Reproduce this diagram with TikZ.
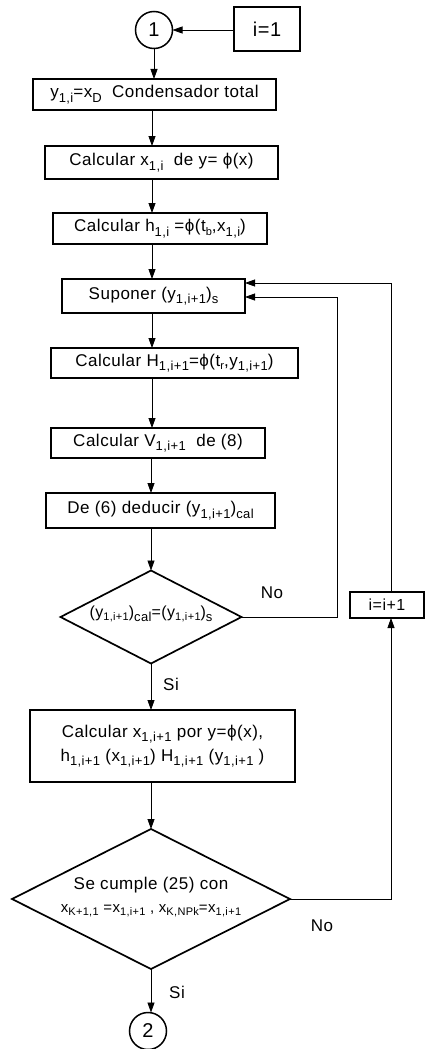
\documentclass[tikz,border=0pt]{standalone}
\usepackage{fontspec}
\setmainfont{Liberation Sans}[LetterSpace=3]
\usetikzlibrary{shapes.geometric,arrows.meta}
\newcommand\lo[1]{\raisebox{-4.5pt}{\fontsize{13}{13}\selectfont #1}}
\newcommand\los[1]{\raisebox{-3.5pt}{\fontsize{11}{11}\selectfont #1}}
\newcommand\ph{ϕ}
\begin{document}
\begin{tikzpicture}[x=1pt,y=-1pt,
  every node/.style={inner sep=0pt,outer sep=0pt,font=\fontsize{17}{21}\selectfont},
  box/.style={draw,line width=1.7pt,rectangle,align=center},
  conn/.style={draw,line width=0.8pt,-{Triangle[length=10pt,width=7pt]}},
  plain/.style={draw,line width=0.8pt},
  circ/.style={draw,circle,line width=1.5pt,minimum size=37pt,font=\fontsize{20}{22}\selectfont},
  dia/.style={draw,diamond,line width=1.7pt},
  lbl/.style={font=\fontsize{17}{21}\selectfont}]
\useasboundingbox (0,0) rectangle (425,1049);
\coordinate (ax) at (152,0);
\node[circ] (c1) at (154,30) {1};
\node[box,minimum width=66pt,minimum height=44pt,font=\fontsize{20}{22}\selectfont] (i1) at (267,29) {i=1};
\node[box,minimum width=243pt,minimum height=31pt] (b1) at (154.5,94.5) {y\lo{1,i}=x\lo{D}\ \ Condensador total};
\node[box,minimum width=233pt,minimum height=33pt] (b2) at (161.5,162.5) {Calcular x\lo{1,i}\ \ de y= \ph(x)};
\node[box,minimum width=214pt,minimum height=31pt] (b3) at (160,228.5) {Calcular h\lo{1,i} =\ph(t\los{b},x\lo{1,i})};
\node[box,minimum width=183pt,minimum height=34pt] (b4) at (153.5,296) {Suponer (y\lo{1,i+1})\lo{s}};
\node[box,minimum width=247pt,minimum height=30pt] (b5) at (174.5,363) {Calcular H\lo{1,i+1}=\ph(t\los{r},y\lo{1,i+1})};
\node[box,minimum width=214pt,minimum height=30pt] (b6) at (158,443) {Calcular V\lo{1,i+1}\ \ de (8)};
\node[box,minimum width=229pt,minimum height=35pt] (b7) at (160.5,510.5) {De (6) deducir (y\lo{1,i+1})\lo{cal}};
\node[dia,minimum width=181pt,minimum height=93pt] (d1) at (151,617)
  {\smash{\makebox[0pt]{\fontsize{16}{18}\selectfont(y\los{1,i+1})\lo{cal}=(y\los{1,i+1})\lo{s}}}};
\node[box,minimum width=74pt,minimum height=26pt,line width=1.5pt,font=\fontsize{16}{20}\selectfont] (ii) at (387,605) {i=i+1};
\node[box,minimum width=265pt,minimum height=72pt,line width=2pt] (b8) at (162.5,746)
  {Calcular x\lo{1,i+1} por y=\ph(x),\\[3pt] h\lo{1,i+1} (x\lo{1,i+1}) H\lo{1,i+1} (y\lo{1,i+1} )};
\node[dia,minimum width=278pt,minimum height=140pt] (d2) at (151,899)
  {\smash{\makebox[0pt]{\raisebox{-2pt}{\begin{tabular}{@{}c@{}}Se cumple (25) con\\[2pt]
   {\fontsize{15}{18}\selectfont x\los{K+1,1} =x\los{1,i+1} , x\los{K,NPk}=x\los{1,i+1}}\end{tabular}}}}};
\node[circ] (c2) at (148,1031) {2};
\node[lbl] (no1) at (272,593) {No};
\node[lbl] (si1) at (171,684) {Si};
\node[lbl] (no2) at (322,926) {No};
\node[lbl] (si2) at (177,992) {Si};
\coordinate (r1) at (337,297);
\coordinate (r2) at (391,283);
\draw[conn] (i1.west |- c1) -- (c1.east);
\draw[conn] (c1.south) -- (b1.north -| c1);
\draw[conn] (b1.south -| ax) -- (b2.north -| ax);
\draw[conn] (b2.south -| ax) -- (b3.north -| ax);
\draw[conn] (b3.south -| ax) -- (b4.north -| ax);
\draw[conn] (b4.south -| ax) -- (b5.north -| ax);
\draw[conn] (b5.south -| ax) -- (b6.north -| ax);
\draw[conn] (b6.south -| d1) -- (b7.north -| d1);
\draw[conn] (b7.south -| d1) -- (d1.north);
\draw[conn] (d1.south) -- (b8.north -| d1);
\draw[conn] (b8.south -| d2) -- (d2.north);
\draw[conn] (d2.south) -- (c2.north -| d2);
\draw[plain] (d1.east) -| (r1);
\draw[conn] (r1) -- (b4.east |- r1);
\draw[conn] (d2.east) -| (ii.south -| r2);
\draw[plain] (ii.north -| r2) -- (r2);
\draw[conn] (r2) -- (b4.east |- r2);
\end{tikzpicture}
\end{document}
